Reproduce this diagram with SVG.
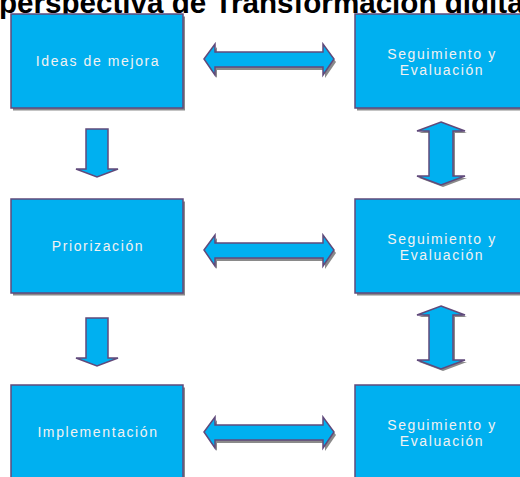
<svg xmlns="http://www.w3.org/2000/svg" width="520" height="477" viewBox="0 0 520 477">
<defs>
<style>
.title{font-family:"Liberation Sans",Arial,sans-serif;font-weight:bold;font-size:29.6px;fill:#000}
.box{fill:#00B0F0;stroke:#604A7B;stroke-width:1.5}
.shadow{fill:#8a8a8a;stroke:none}
.lbl{font-family:"Liberation Sans",Arial,sans-serif;font-size:14px;letter-spacing:1.6px;fill:#F2F2F2;text-anchor:middle}
.arr{fill:#00B0F0;stroke:#604A7B;stroke-width:1.5;stroke-linejoin:miter}
</style>
<rect id="boxshape" x="0" y="0" width="172" height="94"/>
<path id="hdbl" d="M0,0 L11,-15 L11,-7 L119,-7 L119,-15 L130,0 L119,16 L119,8 L11,8 L11,16 Z"/>
<path id="vdbl" d="M0,0 L24,9 L12,9 L12,54 L24,54 L0,63 L-24,54 L-12,54 L-12,9 L-24,9 Z"/>
<path id="down" d="M-11,0 L11,0 L11,40 L21,40 L0,48 L-21,40 L-11,40 Z"/>
</defs>
<text class="title" x="-1" y="13">perspectiva de Transformación digital</text>
<g id="connectors">
<g transform="translate(204,59)"><use href="#hdbl" class="shadow" transform="translate(2,3)"/><use href="#hdbl" class="arr"/></g>
<g transform="translate(204,250)"><use href="#hdbl" class="shadow" transform="translate(2,3)"/><use href="#hdbl" class="arr"/></g>
<g transform="translate(204,432)"><use href="#hdbl" class="shadow" transform="translate(2,3)"/><use href="#hdbl" class="arr"/></g>
<g transform="translate(441,122)"><use href="#vdbl" class="shadow" transform="translate(2,2)"/><use href="#vdbl" class="arr"/></g>
<g transform="translate(441,306)"><use href="#vdbl" class="shadow" transform="translate(2,2)"/><use href="#vdbl" class="arr"/></g>
<g transform="translate(97,129)"><use href="#down" class="arr"/></g>
<g transform="translate(97,318)"><use href="#down" class="arr"/></g>
</g>
<g id="n1" transform="translate(11,14)"><use href="#boxshape" class="shadow" transform="translate(2,2.5)"/><use href="#boxshape" class="box"/><text class="lbl" x="87" y="51.5">Ideas de mejora</text></g>
<g id="n2" transform="translate(11,199)"><use href="#boxshape" class="shadow" transform="translate(2,2.5)"/><use href="#boxshape" class="box"/><text class="lbl" x="87" y="51.5">Priorización</text></g>
<g id="n3" transform="translate(11,385)"><use href="#boxshape" class="shadow" transform="translate(2,2.5)"/><use href="#boxshape" class="box"/><text class="lbl" x="87" y="51.5">Implementación</text></g>
<g id="n4" transform="translate(355,14)"><use href="#boxshape" class="shadow" transform="translate(2,2.5)"/><use href="#boxshape" class="box"/><text class="lbl" x="87" y="44.5">Seguimiento y</text><text class="lbl" x="87" y="60.5">Evaluación</text></g>
<g id="n5" transform="translate(355,199)"><use href="#boxshape" class="shadow" transform="translate(2,2.5)"/><use href="#boxshape" class="box"/><text class="lbl" x="87" y="44.5">Seguimiento y</text><text class="lbl" x="87" y="60.5">Evaluación</text></g>
<g id="n6" transform="translate(355,385)"><use href="#boxshape" class="shadow" transform="translate(2,2.5)"/><use href="#boxshape" class="box"/><text class="lbl" x="87" y="44.5">Seguimiento y</text><text class="lbl" x="87" y="60.5">Evaluación</text></g>
</svg>
